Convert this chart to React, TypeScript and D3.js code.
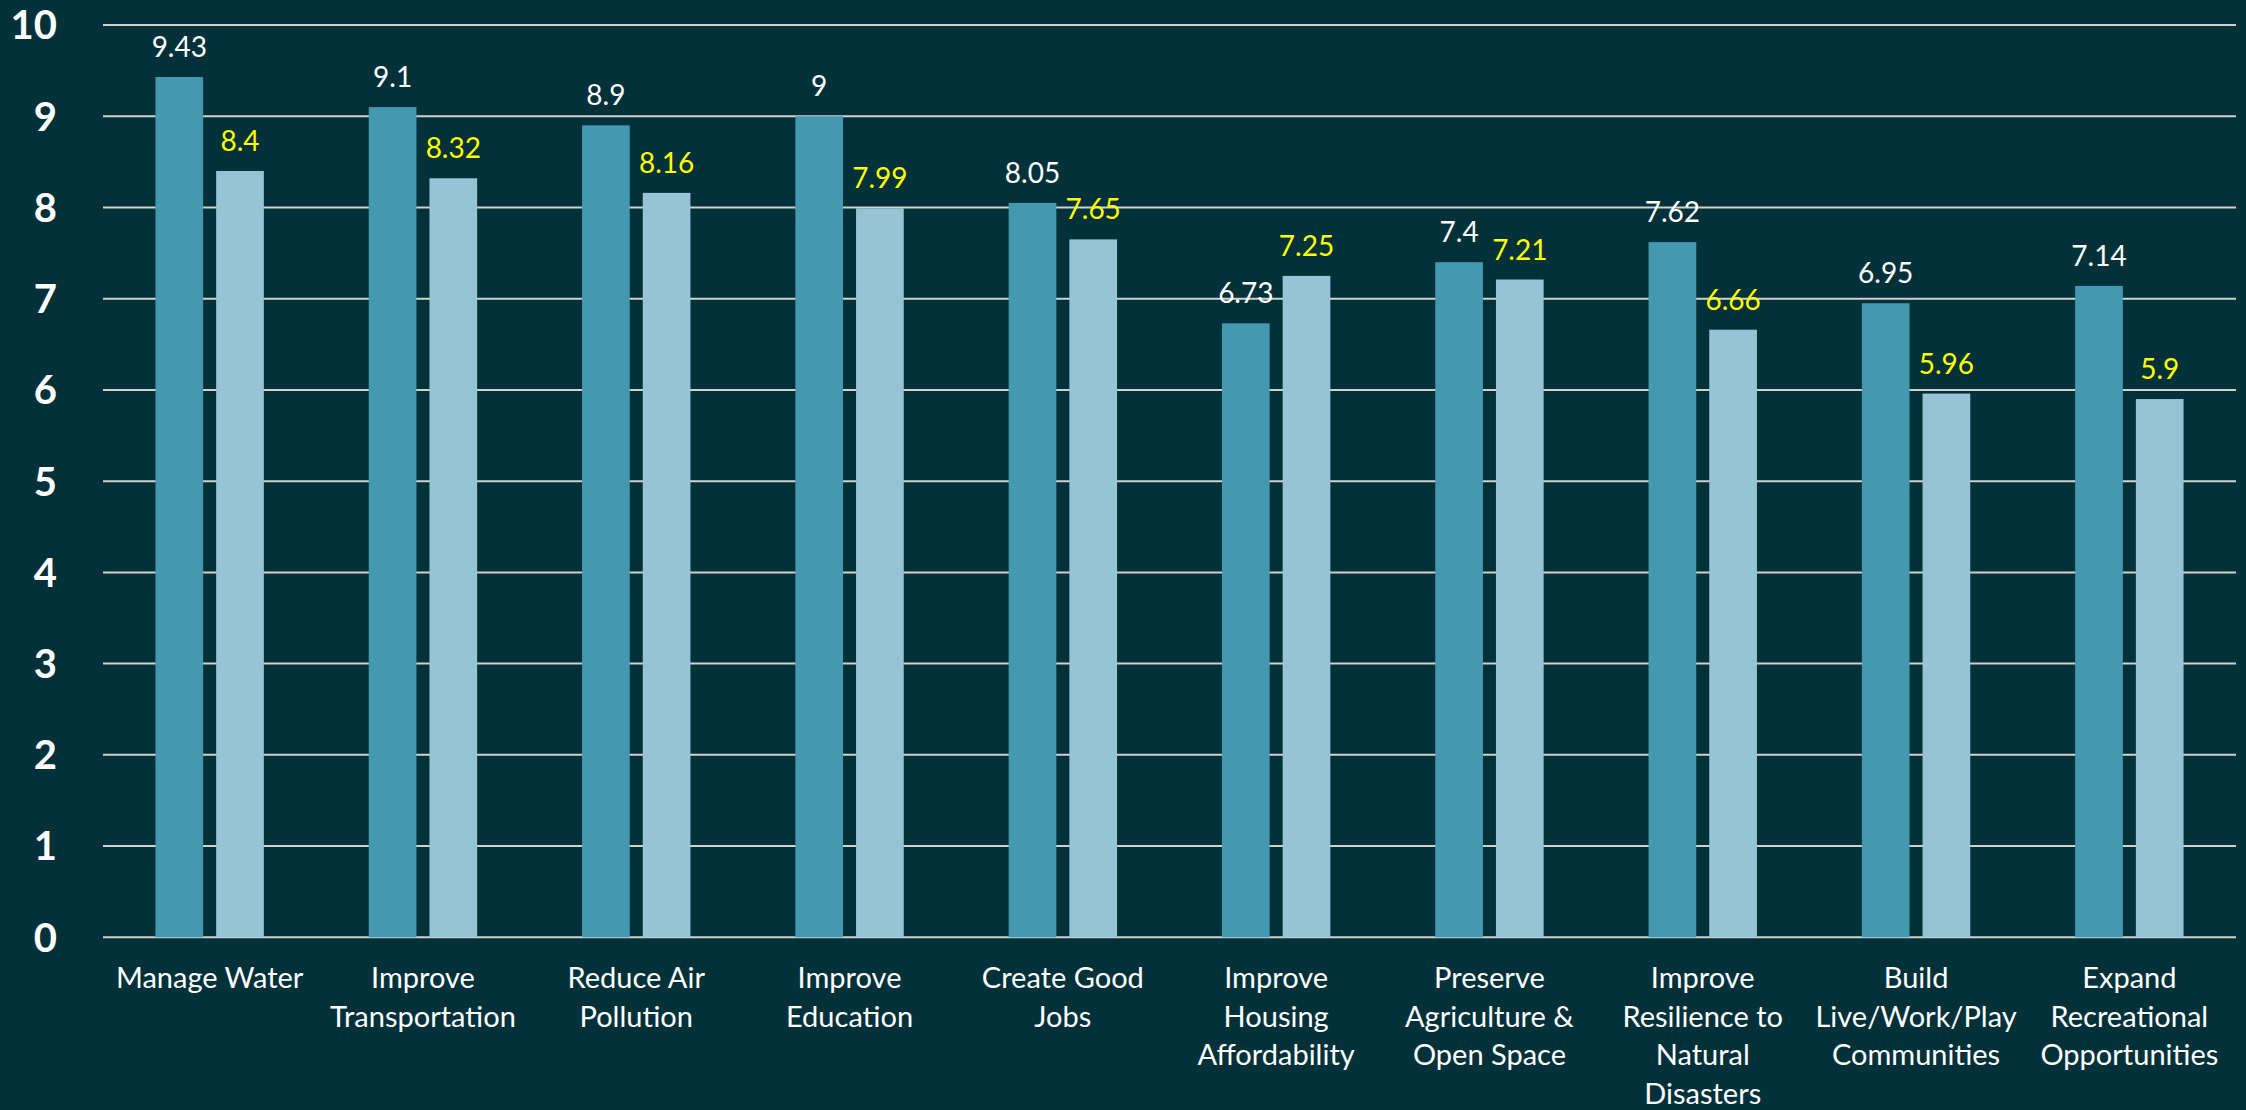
import React from "react";
import * as d3 from "d3";

const categories: string[][] = [
  ["Manage Water"],
  ["Improve", "Transportation"],
  ["Reduce Air", "Pollution"],
  ["Improve", "Education"],
  ["Create Good", "Jobs"],
  ["Improve", "Housing", "Affordability"],
  ["Preserve", "Agriculture &", "Open Space"],
  ["Improve", "Resilience to", "Natural", "Disasters"],
  ["Build", "Live/Work/Play", "Communities"],
  ["Expand", "Recreational", "Opportunities"],
];
const seriesA: number[] = [9.43, 9.1, 8.9, 9, 8.05, 6.73, 7.4, 7.62, 6.95, 7.14];
const seriesB: number[] = [8.4, 8.32, 8.16, 7.99, 7.65, 7.25, 7.21, 6.66, 5.96, 5.9];
const yTicks: number[] = [0, 1, 2, 3, 4, 5, 6, 7, 8, 9, 10];

const W = 2246;
const H = 1110;
const BG = "#02313A";
const COLOR_A = "#4499B0";
const COLOR_B = "#95C4D5";
const FONT = "Lato, 'Open Sans', 'DejaVu Sans', sans-serif";

export default function App() {
  const left = 103;
  const right = 2236;
  const top = 25;
  const bottom = 937.3;

  const x = d3
    .scaleBand<number>()
    .domain(d3.range(categories.length))
    .range([left, right])
    .paddingInner(0)
    .paddingOuter(0);
  const y = d3.scaleLinear().domain([0, 10]).range([bottom, top]);

  const band = x.bandwidth();
  const barW = band * 0.2236;
  const gap = band * 0.061;
  const groupW = barW * 2 + gap;

  return (
    <svg
      width={W}
      height={H}
      style={{ position: "absolute", left: 0, top: 0, display: "block" }}
    >
      <rect x={0} y={0} width={W} height={H} fill={BG} />
      {yTicks.map((t) => (
        <g key={t}>
          <line
            x1={left}
            x2={right}
            y1={y(t)}
            y2={y(t)}
            stroke="#D0D0D0"
            strokeWidth={2}
          />
          <text
            x={57}
            y={y(t)}
            dy="0.36em"
            textAnchor="end"
            fill="#FFFFFF"
            fontFamily={FONT}
            fontWeight="bold"
            fontSize={40}
          >
            {t}
          </text>
        </g>
      ))}
      {categories.map((c, i) => {
        const x0 = (x(i) as number) + (band - groupW) / 2;
        const xa = x0;
        const xb = x0 + barW + gap;
        const cx = (x(i) as number) + band / 2;
        return (
          <g key={i}>
            <rect
              x={xa}
              y={y(seriesA[i])}
              width={barW}
              height={bottom - y(seriesA[i])}
              fill={COLOR_A}
            />
            <rect
              x={xb}
              y={y(seriesB[i])}
              width={barW}
              height={bottom - y(seriesB[i])}
              fill={COLOR_B}
            />
            <text
              x={xa + barW / 2}
              y={y(seriesA[i]) - 20}
              textAnchor="middle"
              fill="#FFFFFF"
              fontFamily={FONT}
              fontSize={28}
            >
              {String(seriesA[i])}
            </text>
            <text
              x={xb + barW / 2}
              y={y(seriesB[i]) - 20}
              textAnchor="middle"
              fill="#FFFF00"
              fontFamily={FONT}
              fontSize={28}
            >
              {String(seriesB[i])}
            </text>
            <text
              textAnchor="middle"
              fill="#FFFFFF"
              fontFamily={FONT}
              fontSize={29}
            >
              {c.map((line, j) => (
                <tspan key={j} x={cx} y={988 + j * 38.5}>
                  {line}
                </tspan>
              ))}
            </text>
          </g>
        );
      })}
    </svg>
  );
}
